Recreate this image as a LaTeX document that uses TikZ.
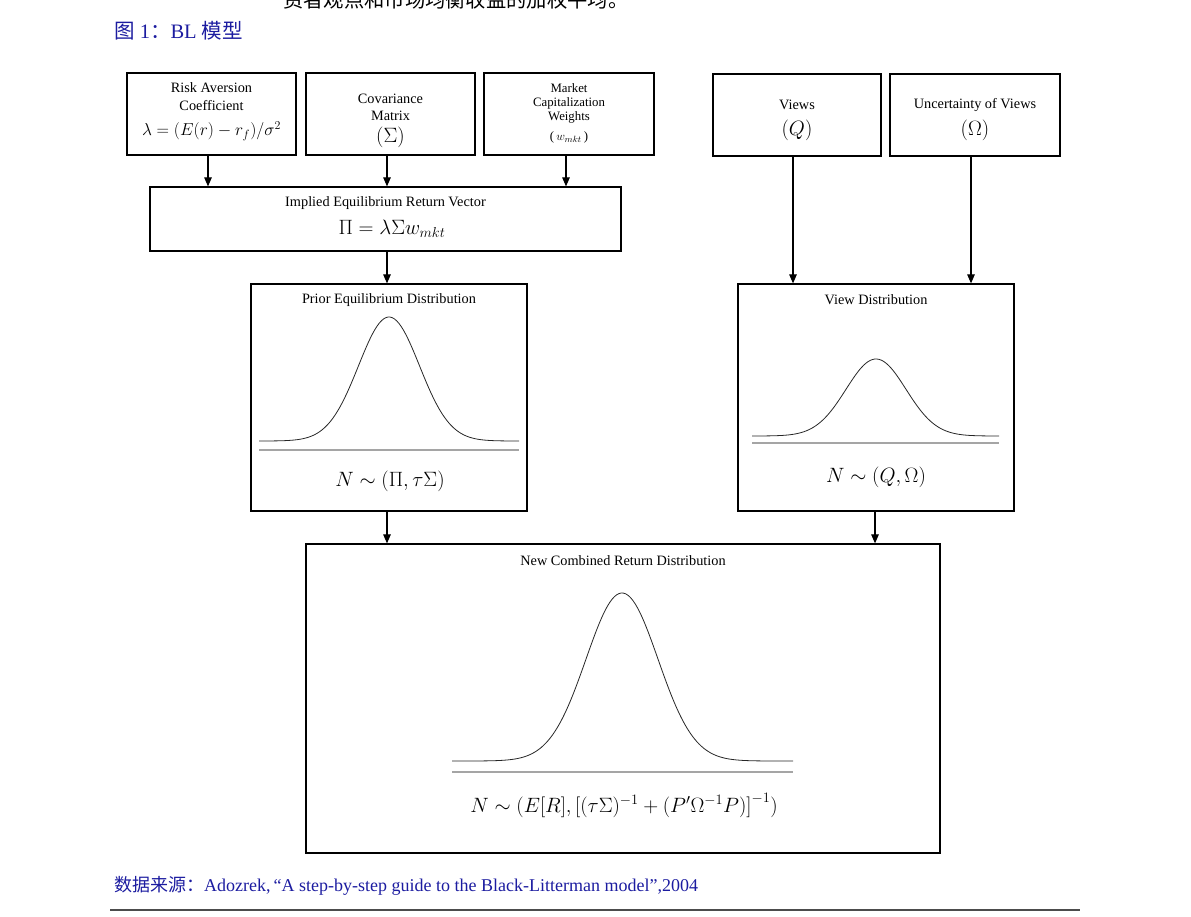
\documentclass[tikz,border=0pt]{standalone}
\usepackage{fontspec}
\setmainfont{Liberation Serif}
\newfontfamily\cjk{Noto Sans CJK SC}
\usetikzlibrary{arrows.meta}
\definecolor{capblue}{RGB}{28,28,160}
\definecolor{rulegray}{RGB}{165,165,165}
\tikzset{
  box/.style={draw=black, line width=1.2pt, inner sep=0pt},
  lbl/.style={inner sep=0pt, font=\fontsize{14.3}{16}\selectfont},
  small/.style={inner sep=0pt, font=\fontsize{12.8}{14}\selectfont},
  mth/.style={inner sep=0pt, font=\fontsize{21.5}{24}\selectfont},
  arr/.style={line width=1.1pt, -{Triangle[length=9pt,width=7.5pt]}},
  curve/.style={line width=0.8pt, black!85},
  base/.style={line width=2pt, rulegray},
}
\begin{document}
\begin{tikzpicture}[x=1pt,y=-1pt]
\useasboundingbox (0,0) rectangle (1191,917);

% top cut-off text line
\node[anchor=west, inner sep=0pt, font=\cjk\fontsize{20.3}{22}\selectfont] (topline) at (283,0) {资者观点和市场均衡收益的加权平均。};
% heading
\node[anchor=west, inner sep=0pt, text=capblue, font=\fontsize{20.5}{23}\selectfont] (head) at (114,31) {{\cjk 图} 1{\cjk ：}BL {\cjk 模型}};

% boxes
\node[box, minimum width=169pt, minimum height=82pt] (risk) at (211.5,114) {};
\node[box, minimum width=169pt, minimum height=82pt] (cov) at (390.5,114) {};
\node[box, minimum width=170pt, minimum height=82pt] (mkt) at (569,114) {};
\node[box, minimum width=168pt, minimum height=82pt] (views) at (797,115) {};
\node[box, minimum width=170pt, minimum height=82pt] (unc) at (975,115) {};
\node[box, minimum width=471pt, minimum height=64pt] (impl) at (385.5,219) {};
\node[box, minimum width=276pt, minimum height=227pt] (prior) at (389,397.5) {};
\node[box, minimum width=276pt, minimum height=227pt] (vdist) at (876,397.5) {};
\node[box, minimum width=634pt, minimum height=309pt] (comb) at (623,698.5) {};

% box texts
\node[lbl] (riskt1) at (211.5,88) {Risk Aversion};
\node[lbl] (riskt2) at (211.5,106) {Coefficient};
\node[inner sep=0pt, font=\fontsize{16.5}{19}\selectfont] (riskf) at (211.5,131) {$\lambda=\Bigl(E(r)-r_f\Bigr)\Big/\sigma^2$};
\node[lbl] (covt1) at (390.5,99) {Covariance};
\node[lbl] (covt2) at (390.5,116) {Matrix};
\node[mth] (covf) at (390.5,137) {$\bigl(\Sigma\bigr)$};
\node[small] (mkt1) at (569,88) {Market};
\node[small] (mkt2) at (569,103) {Capitalization};
\node[small] (mkt3) at (569,117) {Weights};
\node[small] (mkt4) at (569,137) {(\,$w_{mkt}$\,)};
\node[lbl] (viewst) at (797,105) {Views};
\node[mth] (viewsf) at (797,130) {$\bigl(Q\bigr)$};
\node[lbl] (unct) at (975,105) {Uncertainty of Views};
\node[mth] (uncf) at (975,130) {$\bigl(\Omega\bigr)$};
\node[lbl] (implt) at (385.5,203) {Implied Equilibrium Return Vector};
\node[mth] (implf) at (392,229) {$\Pi=\lambda\Sigma w_{mkt}$};
\node[lbl] (priort) at (389,300) {Prior Equilibrium Distribution};
\node[mth] (priorf) at (390,481) {$N\sim\bigl(\Pi,\tau\Sigma\bigr)$};
\node[lbl] (vdistt) at (876,300) {View Distribution};
\node[mth] (vdistf) at (876,477) {$N\sim\bigl(Q,\Omega\bigr)$};
\node[lbl] (combt) at (623,561) {New Combined Return Distribution};
\node[inner sep=0pt, font=\fontsize{20.5}{23}\selectfont] (combf) at (624,805) {$N\sim\Bigl(E[R],\bigl[(\tau\Sigma)^{-1}+\bigl(P'\Omega^{-1}P\bigr)\bigr]^{-1}\Bigr)$};

% curves
\draw[curve] plot[domain=259:519, samples=120, smooth] (\x,{441-124*exp(-0.5*((\x-389)/30.5)^2)});
\draw[base] (259,450) -- (519,450);
\draw[curve] plot[domain=752:999, samples=120, smooth] (\x,{436-77*exp(-0.5*((\x-876)/30)^2)});
\draw[base] (752,443) -- (999,443);
\draw[curve] plot[domain=452:793, samples=150, smooth] (\x,{761-168*exp(-0.5*((\x-622)/36)^2)});
\draw[base] (452,772) -- (793,772);

% arrow columns
\coordinate (c1) at (208,0);
\coordinate (c2) at (387,0);
\coordinate (c3) at (566,0);
\coordinate (c4) at (793,0);
\coordinate (c5) at (971,0);
\coordinate (c6) at (875,0);
\draw[arr] (risk.south -| c1) -- (impl.north -| c1);
\draw[arr] (cov.south -| c2) -- (impl.north -| c2);
\draw[arr] (mkt.south -| c3) -- (impl.north -| c3);
\draw[arr] (impl.south -| c2) -- (prior.north -| c2);
\draw[arr] (views.south -| c4) -- (vdist.north -| c4);
\draw[arr] (unc.south -| c5) -- (vdist.north -| c5);
\draw[arr] (prior.south -| c2) -- (comb.north -| c2);
\draw[arr] (vdist.south -| c6) -- (comb.north -| c6);

% source line and rule
\node[anchor=west, inner sep=0pt, text=capblue, font=\fontsize{18}{20}\selectfont] (src) at (114,886) {{\cjk 数据来源：}Adozrek,\,“A step-by-step guide to the Black-Litterman model”,2004};
\coordinate (r1) at (110,910);
\coordinate (r2) at (1080,910);
\draw[line width=1.8pt, black!70] (r1) -- (r2);
\end{tikzpicture}
\end{document}
